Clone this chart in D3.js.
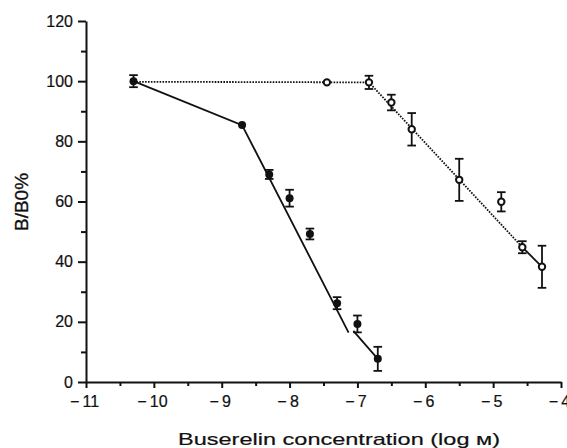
<!DOCTYPE html>
<html>
<head>
<meta charset="utf-8">
<script src="https://cdn.jsdelivr.net/npm/d3@7"></script>
<style>
  body { margin: 0; background: #fff; }
  svg { display: block; }
  text { font-family: "Liberation Sans", Arial, Helvetica, sans-serif; fill: #111; }
</style>
</head>
<body>
<svg id="chart" width="567" height="448"></svg>
<script>
// ---- data ----
const filledX   = [-10.3, -8.7, -8.3, -8.0, -7.7, -7.3, -7.0, -6.7];
const filledY   = [100, 85.4, 69.0, 61.1, 49.2, 26.2, 19.3, 7.7];
const filledErr = [2, 0, 1.5, 2.8, 1.8, 2, 2.8, 4];

const openX   = [-7.45, -6.83, -6.5, -6.2, -5.5, -4.88, -4.57, -4.28];
const openY   = [99.6, 99.6, 92.9, 84.0, 67.2, 59.9, 44.8, 38.3];
const openErr = [0, 2.2, 2.6, 5.4, 7, 3.2, 2, 7];

// fitted lines
const solidFitA = [[-10.3, 100], [-8.7, 85.4], [-7.13, 16.4]];
const solidFitB = [[-7.06, 17.0], [-6.7, 7.7]];
const dottedFit = [[-10.3, 99.8], [-6.83, 99.6], [-4.57, 44.8]];
const solidTail = [[-4.57, 44.8], [-4.28, 38.3]];

const xMajorTicks = [-11, -10, -9, -8, -7, -6, -5, -4];
const xMinorTicks = [-10.5, -9.5, -8.5, -7.5, -6.5, -5.5, -4.5];
const yMajorTicks = [0, 20, 40, 60, 80, 100, 120];
const yMinorTicks = [10, 30, 50, 70, 90, 110];

const xTitle = "Buserelin concentration (log \u043c)";
const yTitle = "B/B0%";

// ---- drawing ----
const svg = d3.select("#chart");
const x = d3.scaleLinear().domain([-11, -4]).range([86, 561]);
const y = d3.scaleLinear().domain([0, 120]).range([382, 21]);
const ink = "#111";
const fmt = d => (d < 0 ? "\u2212\u2009" : "") + Math.abs(d);

// x axis
const gx = svg.append("g").attr("transform", `translate(0,${y(0)})`);
gx.call(d3.axisBottom(x).tickValues(xMajorTicks).tickSize(6).tickSizeOuter(0).tickPadding(8).tickFormat(fmt));
gx.selectAll(".tick text").attr("dx", -2);
const gxm = svg.append("g").attr("transform", `translate(0,${y(0)})`);
gxm.call(d3.axisBottom(x).tickValues(xMinorTicks).tickSize(4).tickFormat(""));
gxm.select(".domain").remove();

// y axis
const gy = svg.append("g").attr("transform", `translate(${x(-11)},0)`);
gy.call(d3.axisLeft(y).tickValues(yMajorTicks).tickSize(8).tickSizeOuter(0).tickPadding(5).tickFormat(d3.format("d")));
const gym = svg.append("g").attr("transform", `translate(${x(-11)},0)`);
gym.call(d3.axisLeft(y).tickValues(yMinorTicks).tickSize(5).tickFormat(""));
gym.select(".domain").remove();

svg.selectAll(".domain, .tick line").attr("stroke", ink).attr("stroke-width", 2);
svg.selectAll(".tick text").attr("font-size", 16).attr("fill", ink)
   .attr("stroke", ink).attr("stroke-width", 0.2)
   .style("font-family", '"Liberation Sans", Arial, Helvetica, sans-serif');

// axis titles
svg.append("text")
  .attr("x", 339).attr("y", 445)
  .attr("text-anchor", "middle")
  .attr("font-size", 17)
  .attr("stroke", ink).attr("stroke-width", 0.2)
  .attr("textLength", 322).attr("lengthAdjust", "spacingAndGlyphs")
  .text(xTitle);

svg.append("text")
  .attr("transform", "translate(28,202) rotate(-90)")
  .attr("text-anchor", "middle")
  .attr("font-size", 19)
  .attr("stroke", ink).attr("stroke-width", 0.35)
  .text(yTitle);

// lines
const line = d3.line().x(d => x(d[0])).y(d => y(d[1]));
svg.append("path").attr("d", line(dottedFit)).attr("fill", "none")
  .attr("stroke", ink).attr("stroke-width", 1.8).attr("stroke-dasharray", "1.6,1.3");
[solidFitA, solidFitB, solidTail].forEach(seg => {
  svg.append("path").attr("d", line(seg)).attr("fill", "none")
    .attr("stroke", ink).attr("stroke-width", 1.8);
});

// error bars
function errorBars(xs, ys, es) {
  const g = svg.append("g").attr("stroke", ink).attr("stroke-width", 1.8);
  xs.forEach((xv, i) => {
    const e = es[i];
    if (!e) return;
    const cx = x(xv), top = y(ys[i] + e), bot = y(ys[i] - e);
    g.append("line").attr("x1", cx).attr("x2", cx).attr("y1", top).attr("y2", bot);
    g.append("line").attr("x1", cx - 4.3).attr("x2", cx + 4.3).attr("y1", top).attr("y2", top);
    g.append("line").attr("x1", cx - 4.3).attr("x2", cx + 4.3).attr("y1", bot).attr("y2", bot);
  });
}
errorBars(filledX, filledY, filledErr);
errorBars(openX, openY, openErr);

// markers
svg.append("g").selectAll("circle").data(openX).join("circle")
  .attr("cx", d => x(d)).attr("cy", (d, i) => y(openY[i])).attr("r", 3.2)
  .attr("fill", "#fff").attr("stroke", ink).attr("stroke-width", 2);
svg.append("g").selectAll("circle").data(filledX).join("circle")
  .attr("cx", d => x(d)).attr("cy", (d, i) => y(filledY[i])).attr("r", 4)
  .attr("fill", ink);
</script>
</body>
</html>
